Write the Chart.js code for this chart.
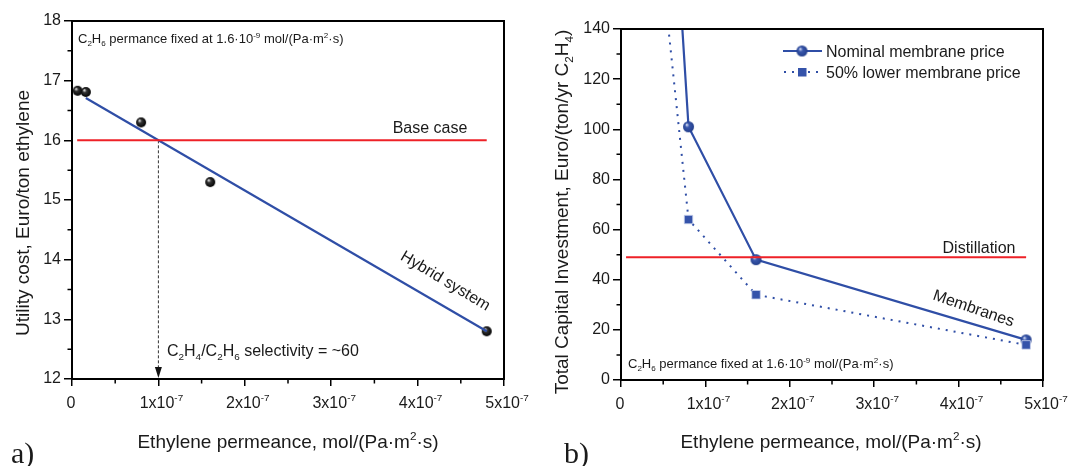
<!DOCTYPE html>
<html>
<head>
<meta charset="utf-8">
<script src="https://cdn.jsdelivr.net/npm/chart.js@4.4.1/dist/chart.umd.min.js"></script>
<style>
  body { margin: 0; background: #fff; }
  #wrap { position: relative; width: 1083px; height: 466px; }
  canvas { position: absolute; top: 0; }
  #chartA { left: 0; }
  #chartB { left: 540px; }
</style>
</head>
<body>
<div id="wrap">
  <canvas id="chartA" width="540" height="466"></canvas>
  <canvas id="chartB" width="543" height="466"></canvas>
</div>
<script>
// ---- panel a) utility cost ----
const permA = [0.065e-7, 0.16e-7, 0.8e-7, 1.6e-7, 4.8e-7];
const costA = [16.83, 16.81, 16.30, 15.30, 12.80];
const fitX = [0.16e-7, 4.8e-7];
const fitY = [16.71, 12.80];
const baseX = [0.06e-7, 4.8e-7];
const baseCase = 16;
const selectivityX = 1e-7;

// ---- panel b) capital investment ----
// first point of each series lies above the axis top (line leaves the plot)
const nominalX = [0.6e-7, 0.8e-7, 1.6e-7, 4.8e-7];
const nominalY = [208, 101, 48, 16];
const lowerX = [0.5e-7, 0.8e-7, 1.6e-7, 4.8e-7];
const lowerY = [160, 64, 34, 14];
const distX = [0.06e-7, 4.8e-7];
const distillation = 49;

const xTicks = [0, 1e-7, 2e-7, 3e-7, 4e-7, 5e-7];
const xTickLabels = ['0', '1x10^{-7}', '2x10^{-7}', '3x10^{-7}', '4x10^{-7}', '5x10^{-7}'];

const FONT = '"Liberation Sans", Arial, Helvetica, sans-serif';
const BLUE = '#2f4ea6';
const RED = '#ee2127';
const TXT = '#1a1a1a';

// simple rich text: _x / _{..} subscript, ^x / ^{..} superscript
function parseRich(s) {
  const out = [];
  let i = 0, buf = '';
  while (i < s.length) {
    const c = s[i];
    if (c === '_' || c === '^') {
      if (buf) { out.push([buf, 0]); buf = ''; }
      let t;
      if (s[i + 1] === '{') {
        const j = s.indexOf('}', i);
        t = s.slice(i + 2, j);
        i = j + 1;
      } else {
        t = s[i + 1];
        i += 2;
      }
      out.push([t, c === '_' ? 1 : -1]);
    } else {
      buf += c;
      i++;
    }
  }
  if (buf) out.push([buf, 0]);
  return out;
}

function drawRich(ctx, s, x, y, size, align, color) {
  const parts = parseRich(s);
  const small = size * 0.62;
  let w = 0;
  const widths = parts.map(p => {
    ctx.font = (p[1] ? small : size) + 'px ' + FONT;
    const m = ctx.measureText(p[0]).width;
    w += m;
    return m;
  });
  let cx = x;
  if (align === 'center') cx = x - w / 2;
  if (align === 'right') cx = x - w;
  ctx.fillStyle = color || TXT;
  ctx.textBaseline = 'alphabetic';
  ctx.textAlign = 'left';
  parts.forEach((p, k) => {
    ctx.font = (p[1] ? small : size) + 'px ' + FONT;
    let dy = 0;
    if (p[1] === 1) dy = size * 0.24;
    if (p[1] === -1) dy = -size * 0.42;
    ctx.fillText(p[0], cx, y + dy);
    cx += widths[k];
  });
}

function rotatedRich(ctx, s, x, y, size, angle) {
  ctx.save();
  ctx.translate(x, y);
  ctx.rotate(angle);
  drawRich(ctx, s, 0, 0, size, 'center');
  ctx.restore();
}

// shaded marker images
function sphere(r, light, mid, dark) {
  const c = document.createElement('canvas');
  c.width = c.height = Math.ceil(2 * r + 2);
  const g = c.getContext('2d');
  const cx = c.width / 2;
  const grad = g.createRadialGradient(cx - r * 0.35, cx - r * 0.4, 0.3, cx, cx, r);
  grad.addColorStop(0, light);
  grad.addColorStop(0.35, mid);
  grad.addColorStop(1, dark);
  g.fillStyle = grad;
  g.beginPath();
  g.arc(cx, cx, r, 0, Math.PI * 2);
  g.fill();
  return c;
}
const blackBall = sphere(5, '#e8e8e8', '#333', '#000');
const blueBall = sphere(5.5, '#dfe5f7', '#3a58ad', '#233f8c');

function minorTicks(ctx, chart, vals, axis, len) {
  const s = chart.scales[axis];
  const a = chart.chartArea;
  ctx.save();
  ctx.strokeStyle = '#000';
  ctx.lineWidth = 1.5;
  ctx.beginPath();
  vals.forEach(v => {
    const p = s.getPixelForValue(v);
    if (axis === 'x') { ctx.moveTo(p, a.bottom); ctx.lineTo(p, a.bottom + len); }
    else { ctx.moveTo(a.left, p); ctx.lineTo(a.left - len, p); }
  });
  ctx.stroke();
  ctx.restore();
}

function frameAndX(ctx, chart) {
  const a = chart.chartArea;
  ctx.save();
  ctx.strokeStyle = '#000';
  ctx.lineWidth = 2;
  ctx.strokeRect(a.left, a.top, a.right - a.left, a.bottom - a.top);
  ctx.restore();
  const xs = chart.scales.x;
  xTicks.forEach((v, i) => {
    const p = xs.getPixelForValue(v);
    drawRich(ctx, xTickLabels[i], i === 0 ? p - 1 : p + 3, a.bottom + 29, 16, 'center');
  });
}

function axisCommon(min, max, step, width) {
  return {
    min: min, max: max,
    ticks: { stepSize: step, color: TXT, font: { family: FONT, size: 16 }, padding: 3, autoSkip: false },
    grid: { drawOnChartArea: false, tickLength: 8, color: '#000', lineWidth: 1.5 },
    border: { color: '#000', width: 2 },
    afterFit: s => { s.width = width; }
  };
}

function xAxis() {
  return {
    type: 'linear', min: 0, max: 5e-7,
    ticks: { stepSize: 1e-7, callback: () => '', autoSkip: false, maxRotation: 0 },
    grid: { drawOnChartArea: false, tickLength: 7, color: '#000', lineWidth: 1.5 },
    border: { color: '#000', width: 2 },
    afterFit: s => { s.height = 87; }
  };
}

// ---------- chart a ----------
const annotA = {
  id: 'annotA',
  afterDraw(chart) {
    const ctx = chart.ctx;
    const a = chart.chartArea;
    const xs = chart.scales.x, ys = chart.scales.y;
    minorTicks(ctx, chart, [12.5, 13.5, 14.5, 15.5, 16.5, 17.5], 'y', 4.5);
    minorTicks(ctx, chart, [0.5e-7, 1.5e-7, 2.5e-7, 3.5e-7, 4.5e-7], 'x', 4.5);
    frameAndX(ctx, chart);
    // arrow head
    const px = xs.getPixelForValue(selectivityX);
    ctx.fillStyle = '#111';
    ctx.beginPath();
    ctx.moveTo(px, a.bottom - 1);
    ctx.lineTo(px - 3.5, a.bottom - 12);
    ctx.lineTo(px + 3.5, a.bottom - 12);
    ctx.closePath();
    ctx.fill();

    drawRich(ctx, 'C_2H_6 permance fixed at 1.6·10^{-9} mol/(Pa·m^2·s)', 78, 43, 13, 'left');
    drawRich(ctx, 'Base case', 430, 133, 16, 'center');
    drawRich(ctx, 'C_2H_4/C_2H_6 selectivity = ~60', 167, 356, 16, 'left');
    rotatedRich(ctx, 'Hybrid system', 443, 285, 16, 0.54);
    // axis titles
    ctx.save();
    ctx.translate(29, 213);
    ctx.rotate(-Math.PI / 2);
    drawRich(ctx, 'Utility cost, Euro/ton ethylene', 0, 0, 19, 'center');
    ctx.restore();
    drawRich(ctx, 'Ethylene permeance, mol/(Pa·m^2·s)', 288, 448, 19, 'center');
    ctx.save();
    ctx.font = '30px "Liberation Serif", "Times New Roman", serif';
    ctx.fillStyle = TXT;
    ctx.textAlign = 'left';
    ctx.textBaseline = 'alphabetic';
    ctx.fillText('a)', 11, 463);
    ctx.restore();
  }
};

new Chart(document.getElementById('chartA'), {
  type: 'scatter',
  data: {
    datasets: [
      {
        label: 'base',
        data: baseX.map(x => ({ x: x, y: baseCase })),
        showLine: true, borderColor: RED, borderWidth: 2, pointRadius: 0
      },
      {
        label: 'fit',
        data: fitX.map((x, i) => ({ x: x, y: fitY[i] })),
        showLine: true, borderColor: BLUE, borderWidth: 2.2, pointRadius: 0
      },
      {
        label: 'selectivity',
        data: [{ x: selectivityX, y: baseCase }, { x: selectivityX, y: 12.15 }],
        showLine: true, borderColor: '#333', borderWidth: 1, borderDash: [3, 2], pointRadius: 0
      },
      {
        label: 'Utility cost',
        data: permA.map((x, i) => ({ x: x, y: costA[i] })),
        pointStyle: blackBall, pointRadius: 5, showLine: false
      }
    ]
  },
  options: {
    responsive: false,
    animation: false,
    layout: { padding: { left: 0, right: 36, top: 21, bottom: 0 } },
    plugins: { legend: { display: false }, tooltip: { enabled: false } },
    scales: {
      x: xAxis(),
      y: axisCommon(12, 18, 1, 72)
    }
  },
  plugins: [annotA]
});

// ---------- chart b ----------
const annotB = {
  id: 'annotB',
  afterDraw(chart) {
    const ctx = chart.ctx;
    minorTicks(ctx, chart, [10, 30, 50, 70, 90, 110, 130], 'y', 4.5);
    minorTicks(ctx, chart, [0.5e-7, 1.5e-7, 2.5e-7, 3.5e-7, 4.5e-7], 'x', 4.5);
    frameAndX(ctx, chart);

    // legend
    ctx.save();
    ctx.strokeStyle = BLUE;
    ctx.lineWidth = 2;
    ctx.beginPath(); ctx.moveTo(243, 51); ctx.lineTo(282, 51); ctx.stroke();
    ctx.drawImage(blueBall, 262 - blueBall.width / 2, 51 - blueBall.height / 2);
    ctx.setLineDash([2, 6]);
    ctx.beginPath(); ctx.moveTo(244, 72); ctx.lineTo(282, 72); ctx.stroke();
    ctx.setLineDash([]);
    ctx.fillStyle = '#3553aa';
    ctx.fillRect(258, 68, 8.5, 8.5);
    ctx.restore();
    drawRich(ctx, 'Nominal membrane price', 286, 57, 16, 'left');
    drawRich(ctx, '50% lower membrane price', 286, 78, 16, 'left');

    drawRich(ctx, 'Distillation', 439, 253, 16, 'center');
    rotatedRich(ctx, 'Membranes', 432, 313, 16, 0.33);
    drawRich(ctx, 'C_2H_6 permance fixed at 1.6·10^{-9} mol/(Pa·m^2·s)', 88, 368, 13, 'left');

    ctx.save();
    ctx.translate(28, 212);
    ctx.rotate(-Math.PI / 2);
    drawRich(ctx, 'Total Capital Investment, Euro/(ton/yr C_2H_4)', 0, 0, 19, 'center');
    ctx.restore();
    drawRich(ctx, 'Ethylene permeance, mol/(Pa·m^2·s)', 291, 448, 19, 'center');
    ctx.save();
    ctx.font = '30px "Liberation Serif", "Times New Roman", serif';
    ctx.fillStyle = TXT;
    ctx.textAlign = 'left';
    ctx.textBaseline = 'alphabetic';
    ctx.fillText('b)', 24, 463);
    ctx.restore();
  }
};

new Chart(document.getElementById('chartB'), {
  type: 'scatter',
  data: {
    datasets: [
      {
        label: 'Distillation',
        data: distX.map(x => ({ x: x, y: distillation })),
        showLine: true, borderColor: RED, borderWidth: 2, pointRadius: 0
      },
      {
        label: '50% lower membrane price',
        data: lowerX.map((x, i) => ({ x: x, y: lowerY[i] })),
        showLine: true, borderColor: BLUE, borderWidth: 2, borderDash: [2, 6],
        pointStyle: 'rect', pointRadius: [0, 6, 6, 6],
        pointBackgroundColor: '#3553aa', pointBorderColor: '#c9d2ee', pointBorderWidth: 0.8
      },
      {
        label: 'Nominal membrane price',
        data: nominalX.map((x, i) => ({ x: x, y: nominalY[i] })),
        showLine: true, borderColor: BLUE, borderWidth: 2.2,
        pointStyle: blueBall, pointRadius: [0, 5.5, 5.5, 5.5]
      }
    ]
  },
  options: {
    responsive: false,
    animation: false,
    layout: { padding: { left: 0, right: 40, top: 29, bottom: 0 } },
    plugins: { legend: { display: false }, tooltip: { enabled: false } },
    scales: {
      x: Object.assign(xAxis(), { afterFit: s => { s.height = 86; } }),
      y: axisCommon(0, 140, 20, 81)
    }
  },
  plugins: [annotB]
});
</script>
</body>
</html>
